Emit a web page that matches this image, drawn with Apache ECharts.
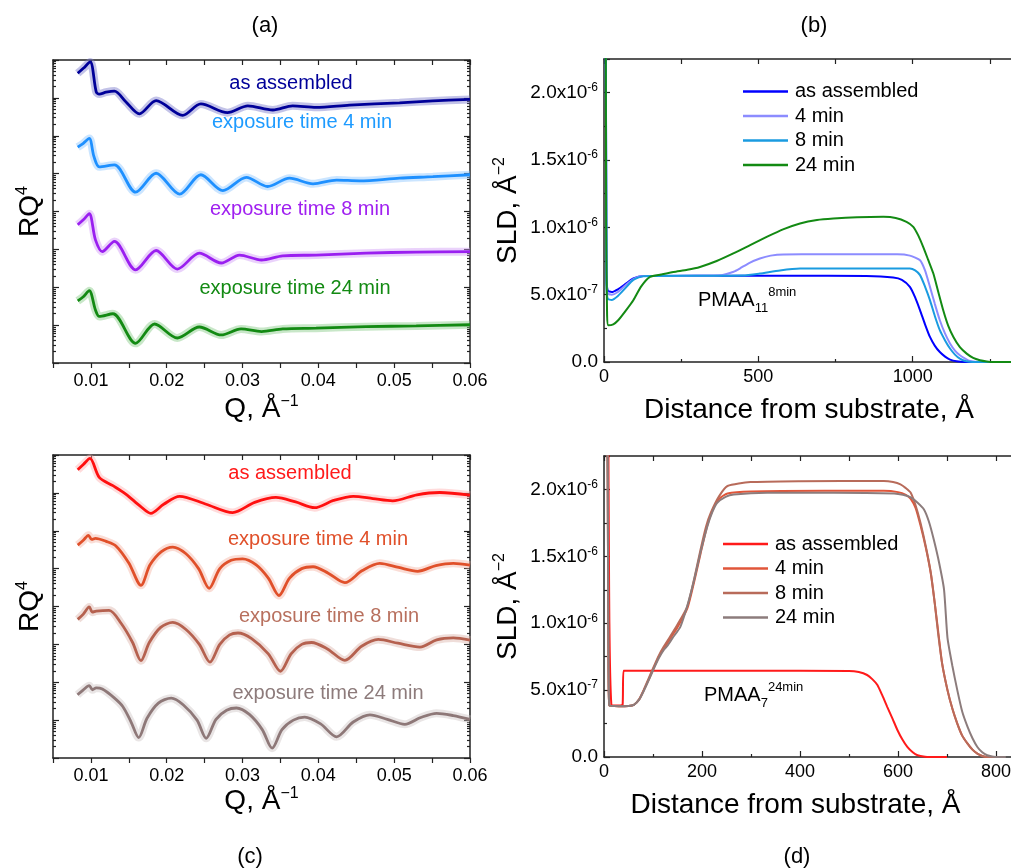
<!DOCTYPE html>
<html>
<head>
<meta charset="utf-8">
<title>Reflectivity and SLD profiles</title>
<script src="https://cdn.jsdelivr.net/npm/echarts@6/dist/echarts.min.js"></script>
<style>
  html, body { margin: 0; padding: 0; background: #fff; }
  #chart { width: 1011px; height: 868px; }
</style>
</head>
<body>
<div id="chart"></div>
<script>
// (a) reflectivity, [Q in 1/A, log10(RQ^4) incl. vertical offset]
const refA_asAssembled = [[0.00826,-0.35],[0.0090,-0.22],[0.0099,-0.05],[0.0107,-0.84],[0.0111,-0.90],[0.0120,-0.85],[0.0131,-0.82],[0.0146,-1.10],[0.0164,-1.42],[0.0186,-1.07],[0.0221,-1.46],[0.0245,-1.16],[0.0280,-1.39],[0.0307,-1.21],[0.0340,-1.32],[0.0366,-1.21],[0.0397,-1.25],[0.0441,-1.19],[0.0507,-1.13],[0.0551,-1.08],[0.0600,-1.04]];
const refA_4min = [[0.00826,-2.30],[0.0090,-2.20],[0.00978,-2.07],[0.0104,-2.55],[0.0111,-2.82],[0.0131,-2.77],[0.0159,-3.49],[0.0186,-2.99],[0.0217,-3.54],[0.0245,-3.03],[0.0274,-3.45],[0.0305,-3.10],[0.0333,-3.34],[0.0362,-3.12],[0.0393,-3.27],[0.0424,-3.17],[0.0454,-3.19],[0.0507,-3.12],[0.0551,-3.08],[0.0600,-3.03]];
const refA_8min = [[0.00826,-4.35],[0.0090,-4.22],[0.00978,-4.06],[0.0106,-4.75],[0.0115,-5.06],[0.0131,-4.79],[0.0159,-5.54],[0.0186,-5.03],[0.0214,-5.52],[0.0243,-5.10],[0.0272,-5.36],[0.0296,-5.15],[0.0325,-5.28],[0.0353,-5.17],[0.0397,-5.15],[0.0463,-5.10],[0.0529,-5.07],[0.0600,-5.06]];
const refA_24min = [[0.00826,-6.36],[0.0090,-6.25],[0.00978,-6.09],[0.0106,-6.60],[0.0111,-6.77],[0.0129,-6.70],[0.0159,-7.48],[0.0184,-6.97],[0.0214,-7.34],[0.0243,-7.05],[0.0272,-7.26],[0.0298,-7.10],[0.0325,-7.17],[0.0353,-7.10],[0.0397,-7.08],[0.0463,-7.04],[0.0529,-7.02],[0.0600,-6.99]];

// (c) reflectivity
const refC_asAssembled = [[0.00826,-0.39],[0.0090,-0.25],[0.00987,-0.09],[0.0111,-0.59],[0.0129,-0.81],[0.0146,-1.03],[0.0165,-1.35],[0.0179,-1.54],[0.0196,-1.30],[0.0217,-1.09],[0.0252,-1.30],[0.0287,-1.52],[0.0316,-1.25],[0.0344,-1.12],[0.0370,-1.24],[0.0395,-1.39],[0.0420,-1.20],[0.0446,-1.09],[0.0472,-1.15],[0.0498,-1.21],[0.0530,-1.05],[0.0560,-0.99],[0.0600,-1.06]];
const refC_4min = [[0.00826,-2.38],[0.0090,-2.25],[0.00968,-2.12],[0.0101,-2.23],[0.0106,-2.20],[0.0120,-2.28],[0.0133,-2.40],[0.0150,-2.85],[0.0166,-3.44],[0.0178,-2.90],[0.0193,-2.55],[0.0208,-2.43],[0.0225,-2.60],[0.0242,-3.00],[0.0256,-3.52],[0.0270,-3.00],[0.0285,-2.78],[0.0300,-2.74],[0.0318,-2.90],[0.0334,-3.25],[0.0348,-3.71],[0.0362,-3.25],[0.0378,-3.00],[0.0393,-2.95],[0.0413,-3.12],[0.0435,-3.37],[0.0458,-3.05],[0.0481,-2.86],[0.0506,-2.97],[0.0531,-3.07],[0.0555,-2.92],[0.0578,-2.86],[0.0600,-2.91]];
const refC_8min = [[0.00826,-4.34],[0.0090,-4.20],[0.00978,-4.01],[0.0102,-4.15],[0.0107,-4.12],[0.0124,-4.10],[0.0140,-4.45],[0.0155,-4.95],[0.0166,-5.43],[0.0177,-4.95],[0.0192,-4.55],[0.0208,-4.42],[0.0225,-4.60],[0.0243,-5.00],[0.0257,-5.47],[0.0270,-5.00],[0.0283,-4.75],[0.0294,-4.70],[0.0312,-4.85],[0.0334,-5.25],[0.0350,-5.71],[0.0364,-5.25],[0.0378,-5.00],[0.0391,-4.95],[0.0412,-5.12],[0.0435,-5.42],[0.0457,-5.05],[0.0479,-4.87],[0.0505,-4.97],[0.0534,-5.07],[0.0556,-4.88],[0.0578,-4.83],[0.0600,-4.89]];
const refC_24min = [[0.00823,-6.33],[0.0090,-6.20],[0.00978,-6.09],[0.0102,-6.20],[0.0107,-6.15],[0.0115,-6.18],[0.0130,-6.40],[0.0142,-6.64],[0.0153,-7.05],[0.0163,-7.46],[0.0174,-6.95],[0.0189,-6.55],[0.0206,-6.42],[0.0222,-6.60],[0.0240,-7.00],[0.0252,-7.48],[0.0265,-6.98],[0.0279,-6.74],[0.0292,-6.68],[0.0309,-6.85],[0.0326,-7.25],[0.0339,-7.74],[0.0352,-7.25],[0.0367,-7.00],[0.0382,-6.92],[0.0403,-7.10],[0.0424,-7.44],[0.0446,-7.05],[0.0468,-6.86],[0.0491,-6.98],[0.0514,-7.11],[0.0535,-6.93],[0.0556,-6.82],[0.0578,-6.88],[0.0600,-6.98]];

// (b) SLD profiles, [distance in A, SLD in 1e-7 A^-2]
const sldB_asAssembled = [[0,35],[4,35],[8,6.5],[12,5.3],[25,5.2],[45,5.4],[70,5.8],[95,6.2],[127,6.38],[300,6.4],[600,6.4],[850,6.38],[937,6.27],[965,6.1],[991,5.58],[1008,4.8],[1024,3.84],[1040,2.8],[1056,1.86],[1072,1.2],[1088,0.74],[1105,0.4],[1121,0.18],[1142,0.05],[1170,0],[1320,0]];
const sldB_4min = [[0,35],[4,35],[8,6.2],[12,5.1],[25,5.0],[45,5.2],[70,5.7],[95,6.15],[127,6.38],[300,6.4],[380,6.45],[420,6.7],[440,6.94],[470,7.35],[505,7.69],[540,7.9],[581,7.99],[700,8.0],[950,8.0],[991,7.9],[1024,7.56],[1040,6.8],[1056,5.58],[1072,4.3],[1088,3.10],[1105,2.1],[1121,1.37],[1137,0.85],[1153,0.50],[1170,0.25],[1186,0.07],[1220,0],[1320,0]];
const sldB_8min = [[0,35],[4,35],[8,5.8],[12,4.7],[25,4.6],[45,4.9],[70,5.5],[95,6.1],[127,6.37],[300,6.4],[450,6.42],[505,6.57],[570,6.8],[635,6.94],[800,6.95],[991,6.94],[1008,6.8],[1024,6.45],[1040,5.6],[1056,4.59],[1072,3.4],[1088,2.36],[1105,1.6],[1121,1.0],[1137,0.55],[1153,0.25],[1170,0.08],[1195,0],[1320,0]];
const sldB_24min = [[0,35],[4,35],[7,10],[10,3.5],[14,2.73],[30,2.8],[46,3.1],[70,3.8],[95,4.59],[120,5.6],[149,6.32],[185,6.5],[225,6.69],[270,6.85],[311,7.06],[365,7.5],[419,8.06],[475,8.7],[527,9.29],[580,9.85],[635,10.29],[690,10.55],[743,10.66],[820,10.75],[905,10.78],[945,10.7],[980,10.41],[1002,10.04],[1018,9.4],[1034,8.55],[1050,7.6],[1067,6.57],[1083,5.2],[1099,3.84],[1115,2.7],[1132,1.86],[1153,1.1],[1175,0.62],[1196,0.3],[1218,0.13],[1240,0.04],[1261,0],[1320,0]];

// (d) SLD profiles
const sldD_asAssembled = [[0,35],[6,35],[11,10],[15,3.9],[22,3.85],[33,3.85],[38,3.9],[40,6.45],[100,6.45],[300,6.45],[500,6.43],[520,6.35],[537,6.13],[548,5.8],[558,5.38],[568,4.6],[578,3.75],[589,2.85],[599,2.0],[609,1.3],[619,0.75],[630,0.35],[640,0.13],[655,0.02],[665,0],[700,0]];
const sldD_4min = [[0,35],[5,35],[9,8],[11,3.85],[30,3.8],[50,3.82],[61,3.9],[72,4.3],[82,5.05],[92,5.85],[102,6.7],[112,7.5],[122,8.1],[135,8.85],[150,9.7],[170,11.1],[184,13.1],[197,15.2],[210,17.2],[221,18.4],[235,19.3],[252,19.7],[300,19.85],[450,19.9],[571,19.9],[600,19.8],[616,19.6],[626,19.3],[636,18.6],[646,17.3],[657,15.6],[667,13.7],[675,11.5],[682,9.4],[690,7.0],[701,5.0],[711,3.6],[721,2.5],[731,1.6],[742,1.0],[752,0.55],[762,0.25],[772,0.08],[782,0],[800,0]];
const sldD_8min = [[0,35],[5,35],[9,8],[11,3.85],[30,3.8],[50,3.82],[61,3.9],[72,4.35],[82,5.1],[92,5.95],[102,6.8],[112,7.6],[122,8.25],[135,9.0],[150,9.9],[170,11.25],[184,13.3],[197,15.5],[208,17.2],[218,18.26],[235,19.5],[252,20.26],[299,20.55],[400,20.62],[571,20.63],[590,20.55],[605,20.38],[616,20.1],[626,19.76],[636,18.8],[646,17.5],[657,15.7],[667,13.76],[675,11.5],[682,9.2],[690,7.0],[701,5.0],[711,3.6],[721,2.5],[731,1.6],[742,1.0],[752,0.55],[762,0.25],[772,0.08],[782,0],[800,0]];
const sldD_24min = [[0,35],[5,35],[9,8],[11,3.85],[30,3.8],[50,3.82],[61,3.9],[72,4.3],[82,5.0],[92,5.8],[102,6.63],[112,7.4],[122,8.0],[129,8.3],[140,8.9],[156,9.75],[170,11.3],[184,13.25],[197,15.3],[211,17.25],[221,18.3],[231,19.0],[248,19.45],[265,19.63],[333,19.76],[469,19.76],[592,19.7],[610,19.6],[626,19.4],[640,19.0],[653,18.5],[663,17.6],[673,16.25],[684,14.5],[694,12.5],[701,8.9],[711,6.8],[721,5.0],[731,3.4],[742,2.25],[752,1.4],[762,0.75],[772,0.35],[782,0.13],[792,0.04],[805,0],[820,0]];

const legendNames = ['as assembled', '4 min', '8 min', '24 min'];
const curveLabelsAC = ['as assembled', 'exposure time 4 min', 'exposure time 8 min', 'exposure time 24 min'];

const colorsA = ['#000099', '#1e90ff', '#9a1ff0', '#138a13'];
const bandsA = ['#7a7acc', '#8cc6ff', '#d19cf6', '#86c986'];
const colorsB = ['#0000ff', '#8c8cff', '#1a9be0', '#138a13'];
const colorsC = ['#ff1010', '#e0502a', '#b5614f', '#8e7878'];
const bandsC = ['#ffb0b0', '#f3b4a4', '#dcb4aa', '#cfc6c6'];
const colorsD = ['#ff1a1a', '#e0563a', '#b86b5a', '#8c7c7c'];

const FONT = '"Liberation Sans", Arial, sans-serif';
const AXIS_LINE = { onZero: false, lineStyle: { color: '#222', width: 1.5 } };
const TICK_STYLE = { color: '#222', width: 1.2 };

function logMajor () {
  const t = [];
  for (let e = -8; e <= 0; e++) t.push(Math.pow(10, e));
  return t;
}
function logMinor () {
  const t = [];
  for (let e = -8; e < 0; e++) {
    for (let m = 2; m <= 9; m++) t.push(m * Math.pow(10, e));
  }
  return t;
}

function qAxis (grid, nameGap) {
  return {
    type: 'value', gridIndex: grid, position: 'bottom', min: 0.005, max: 0.06, interval: 0.005,
    axisLine: AXIS_LINE,
    axisTick: { inside: false, length: 5, lineStyle: TICK_STYLE },
    axisLabel: {
      margin: 9, fontSize: 18, color: '#000', fontFamily: FONT,
      formatter: v => (Math.round(v * 1000) % 10 === 0 ? v.toFixed(2) : '')
    },
    splitLine: { show: false },
    name: '{t|Q, Å}{s|−1}', nameLocation: 'middle', nameGap: nameGap,
    nameTextStyle: {
      rich: {
        t: { fontSize: 28, fontFamily: FONT, color: '#000' },
        s: { fontSize: 16, fontFamily: FONT, color: '#000', padding: [0, 0, 14, 0] }
      }
    }
  };
}

function topAxis (grid, min, max, interval) {
  return {
    type: 'value', gridIndex: grid, position: 'top', min: min, max: max, interval: interval,
    axisLine: AXIS_LINE,
    axisTick: { inside: true, length: 5, lineStyle: TICK_STYLE },
    axisLabel: { show: false },
    splitLine: { show: false }
  };
}

// the plot runs past the right edge of the page, so the name is pulled left with padding
function distAxis (grid, max, interval, padRight) {
  return {
    type: 'value', gridIndex: grid, position: 'bottom', min: 0, max: max, interval: interval,
    axisLine: AXIS_LINE,
    axisTick: { inside: true, length: 6, lineStyle: TICK_STYLE },
    minorTick: { show: true, splitNumber: 2, length: 3, lineStyle: TICK_STYLE },
    axisLabel: { margin: 6, fontSize: 18, color: '#000', fontFamily: FONT, formatter: v => String(v) },
    splitLine: { show: false },
    minorSplitLine: { show: false },
    name: 'Distance from substrate, Å', nameLocation: 'middle', nameGap: 34,
    nameTextStyle: { fontSize: 28, fontFamily: FONT, color: '#000', padding: [0, padRight, 0, 0] }
  };
}

function logAxis (grid, pos, ticks, len, main) {
  const ax = {
    type: 'log', logBase: 10, gridIndex: grid, position: pos, min: 1e-8, max: 1,
    axisLine: main ? AXIS_LINE : { show: false, onZero: false },
    axisTick: { inside: true, length: len, lineStyle: TICK_STYLE, customValues: ticks },
    axisLabel: { show: false },
    splitLine: { show: false }
  };
  if (main && pos === 'left') {
    ax.name = '{t|RQ}{s|4}';
    ax.nameLocation = 'middle';
    ax.nameGap = 8;
    ax.nameTextStyle = {
      rich: {
        t: { fontSize: 28, fontFamily: FONT, color: '#000' },
        s: { fontSize: 16, fontFamily: FONT, color: '#000', padding: [0, 0, 14, 0] }
      }
    };
  }
  return ax;
}

function sldLabel (v) {
  if (v === 0) return '{m|0.0}';
  const k = Math.round(v / 5e-7);
  if (Math.abs(v / 5e-7 - k) > 1e-6) return '';
  const e = Math.floor(Math.log10(v) + 1e-9);
  const m = v / Math.pow(10, e);
  return '{m|' + m.toFixed(1) + 'x10}{e|' + e + '}';
}

function sldAxis (grid) {
  return {
    type: 'value', gridIndex: grid, position: 'left', min: 0, max: 2.25e-6, interval: 5e-7,
    axisLine: AXIS_LINE,
    axisTick: { inside: true, length: 6, lineStyle: TICK_STYLE },
    minorTick: { show: true, splitNumber: 2, length: 3, lineStyle: TICK_STYLE },
    axisLabel: {
      margin: 6, formatter: sldLabel,
      rich: {
        m: { fontSize: 19, fontFamily: FONT, color: '#000' },
        e: { fontSize: 12, fontFamily: FONT, color: '#000', padding: [0, 0, 10, 0] }
      }
    },
    splitLine: { show: false },
    minorSplitLine: { show: false },
    name: '{t|SLD, Å}{s|−2}', nameLocation: 'middle', nameGap: 80,
    nameTextStyle: {
      rich: {
        t: { fontSize: 28, fontFamily: FONT, color: '#000' },
        s: { fontSize: 16, fontFamily: FONT, color: '#000', padding: [0, 0, 16, 0] }
      }
    }
  };
}

const xAxes = [
  qAxis(0, 31), topAxis(0, 0.005, 0.06, 0.005),
  distAxis(1, 1500, 500, 53), topAxis(1, 0, 1500, 250),
  qAxis(2, 22), topAxis(2, 0.005, 0.06, 0.005),
  distAxis(3, 1000, 200, 107), topAxis(3, 0, 1000, 100)
];
const yAxes = [
  logAxis(0, 'left', logMajor(), 6, true), logAxis(0, 'left', logMinor(), 3, false),
  logAxis(0, 'right', logMajor(), 6, true), logAxis(0, 'right', logMinor(), 3, false),
  sldAxis(1),
  logAxis(2, 'left', logMajor(), 6, true), logAxis(2, 'left', logMinor(), 3, false),
  logAxis(2, 'right', logMajor(), 6, true), logAxis(2, 'right', logMinor(), 3, false),
  sldAxis(3)
];

function reflSeries (xi, yi, pts, color, band) {
  const data = pts.map(p => [p[0], Math.pow(10, p[1])]);
  return [
    {
      type: 'line', xAxisIndex: xi, yAxisIndex: yi, data: data, symbol: 'none', smooth: 0.3,
      lineStyle: { color: band, width: 8, opacity: 0.45 }, z: 1, silent: true
    },
    {
      type: 'line', xAxisIndex: xi, yAxisIndex: yi, data: data, symbol: 'none', smooth: 0.3,
      lineStyle: { color: color, width: 2.8 }, z: 2, silent: true
    }
  ];
}

function sldSeries (xi, yi, name, pts, color) {
  return {
    name: name, type: 'line', xAxisIndex: xi, yAxisIndex: yi, symbol: 'none', smooth: 0.2,
    data: pts.map(p => [p[0], p[1] * 1e-7]),
    color: color, lineStyle: { color: color, width: 2 }, z: 3
  };
}

const refA = [refA_asAssembled, refA_4min, refA_8min, refA_24min];
const refC = [refC_asAssembled, refC_4min, refC_8min, refC_24min];
const sldB = [sldB_asAssembled, sldB_4min, sldB_8min, sldB_24min];
const sldD = [sldD_asAssembled, sldD_4min, sldD_8min, sldD_24min];

let series = [];
refA.forEach((pts, i) => { series = series.concat(reflSeries(0, 0, pts, colorsA[i], bandsA[i])); });
refC.forEach((pts, i) => { series = series.concat(reflSeries(4, 5, pts, colorsC[i], bandsC[i])); });
sldB.forEach((pts, i) => { series.push(sldSeries(2, 4, legendNames[i], pts, colorsB[i])); });
sldD.forEach((pts, i) => { series.push(sldSeries(6, 9, 'd:' + legendNames[i], pts, colorsD[i])); });

function txt (text, x, y, color, size, align) {
  return {
    type: 'text', x: x, y: y, silent: true,
    style: {
      text: text, fill: color, fontSize: size, fontFamily: FONT,
      align: align || 'center', verticalAlign: 'middle',
      textAlign: align || 'center', textVerticalAlign: 'middle'
    }
  };
}

function pmaa (sub, sup, x, y) {
  return {
    type: 'text', x: x, y: y, silent: true,
    style: {
      text: '{b|PMAA}{d|' + sub + '}{u|' + sup + '}',
      align: 'left', verticalAlign: 'middle', textAlign: 'left', textVerticalAlign: 'middle',
      rich: {
        b: { fontSize: 20, fontFamily: FONT, fill: '#000', color: '#000' },
        d: { fontSize: 13, fontFamily: FONT, fill: '#000', color: '#000', padding: [16, 0, 0, 0] },
        u: { fontSize: 13, fontFamily: FONT, fill: '#000', color: '#000', padding: [0, 0, 15, 0] }
      }
    }
  };
}

const annA = [[291, 83], [302, 122], [300, 209], [295, 288]];
const annC = [[290, 473], [318, 539], [329, 616], [328, 693]];
const textA = ['#000099', '#1e9bff', '#a020f0', '#138a13'];
const textC = ['#ff1a1a', '#e0502a', '#b8705e', '#8d7b7b'];

const graphics = [
  txt('(a)', 265, 26, '#000', 22), txt('(b)', 814, 26, '#000', 22),
  txt('(c)', 250, 857, '#000', 22), txt('(d)', 797, 857, '#000', 22),
  pmaa('11', '8min', 698, 300), pmaa('7', '24min', 704, 695)
];
curveLabelsAC.forEach((t, i) => {
  graphics.push(txt(t, annA[i][0], annA[i][1], textA[i], 20));
  graphics.push(txt(t, annC[i][0], annC[i][1], textC[i], 20));
});

const legendBase = {
  orient: 'vertical', padding: 0, itemWidth: 45, itemHeight: 2.5, itemGap: 4.5,
  icon: 'rect', selectedMode: false,
  textStyle: { fontSize: 20, fontFamily: FONT, color: '#000', lineHeight: 20, padding: [0, 0, 0, 2] }
};

const option = {
  animation: false,
  backgroundColor: '#fff',
  grid: [
    { left: 53, top: 60, width: 417, height: 303, outerBoundsMode: 'none' },
    { left: 604, top: 59, width: 463, height: 303, outerBoundsMode: 'none' },
    { left: 53, top: 455, width: 417, height: 303, outerBoundsMode: 'none' },
    { left: 604, top: 456, width: 490, height: 301, outerBoundsMode: 'none' }
  ],
  xAxis: xAxes,
  yAxis: yAxes,
  legend: [
    Object.assign({}, legendBase, { left: 743, top: 81.5, data: legendNames }),
    Object.assign({}, legendBase, {
      left: 723, top: 534, data: legendNames.map(n => 'd:' + n),
      formatter: n => n.slice(2)
    })
  ],
  graphic: { elements: graphics },
  series: series
};

const chart = echarts.init(document.getElementById('chart'), null, { renderer: 'canvas' });
chart.setOption(option);
window.addEventListener('resize', () => chart.resize());
</script>
</body>
</html>
